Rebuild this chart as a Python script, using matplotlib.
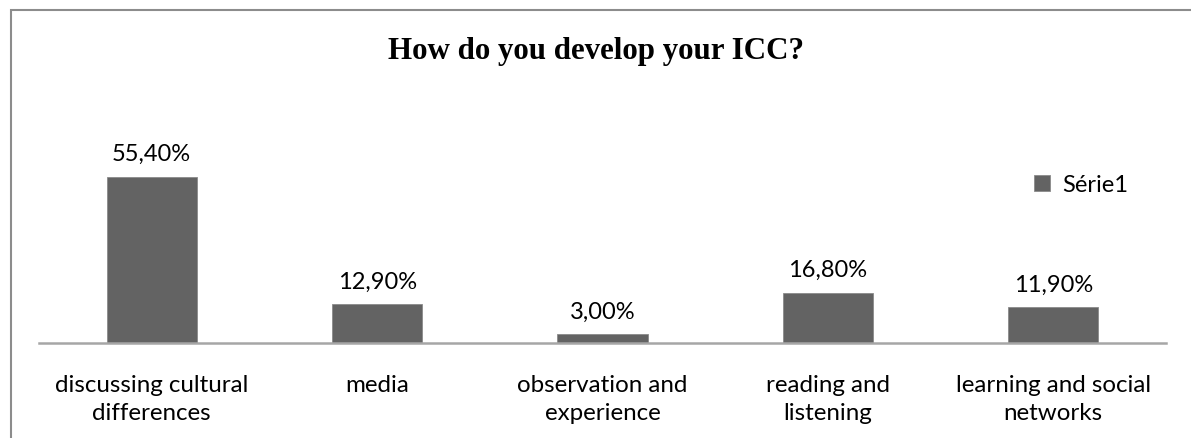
import matplotlib.pyplot as plt
from matplotlib.patches import Rectangle

categories = ['discussing cultural\ndifferences', 'media', 'observation and\nexperience',
              'reading and\nlistening', 'learning and social\nnetworks']
values = [55.4, 12.9, 3.0, 16.8, 11.9]
series_name = 'Série1'
title = 'How do you develop your ICC?'

W, H = 1191, 439
fig = plt.figure(figsize=(W / 100, H / 100), dpi=100)

# outer chart frame (runs off the right and bottom edges)
fig.patches.append(Rectangle((11 / W, -0.1), 1.2, (H - 11) / H + 0.1,
                             transform=fig.transFigure, fill=False,
                             edgecolor='#8c8c8c', linewidth=1.5))

ax = fig.add_axes([39 / W, (H - 344) / H, (1166 - 39) / W, 180 / H])
x = range(len(values))
bars = ax.bar(x, values, width=0.4, color='#636363', edgecolor='#8a8a8a',
              linewidth=0.6, label=series_name, zorder=2)
ax.set_xlim(-0.5, len(values) - 0.5)
ax.set_ylim(0, 60)

labels = [f'{v:.2f}%'.replace('.', ',') for v in values]
ax.bar_label(bars, labels=labels, padding=9, fontsize=17,
             fontfamily='Lato', color='black')

for s in ['top', 'right', 'left']:
    ax.spines[s].set_visible(False)
ax.spines['bottom'].set_color('#a6a6a6')
ax.spines['bottom'].set_linewidth(1.8)
ax.set_yticks([])
ax.set_xticks(list(x))
ax.set_xticklabels(categories, fontsize=17.4, fontfamily='Lato', linespacing=1.42)
ax.tick_params(axis='x', length=0, pad=22)

fig.text(0.5, (H - 51) / H, title, ha='center', va='center', fontsize=22.3,
         fontweight='bold', fontfamily='Liberation Serif')

fig.legend(handles=[bars], labels=[series_name], loc='center left',
           bbox_to_anchor=(1013 / W, (H - 186) / H), frameon=False,
           prop={'family': 'Lato', 'size': 17},
           handlelength=0.65, handleheight=0.65, handletextpad=0.55)

fig.savefig('out.png', dpi=100)
